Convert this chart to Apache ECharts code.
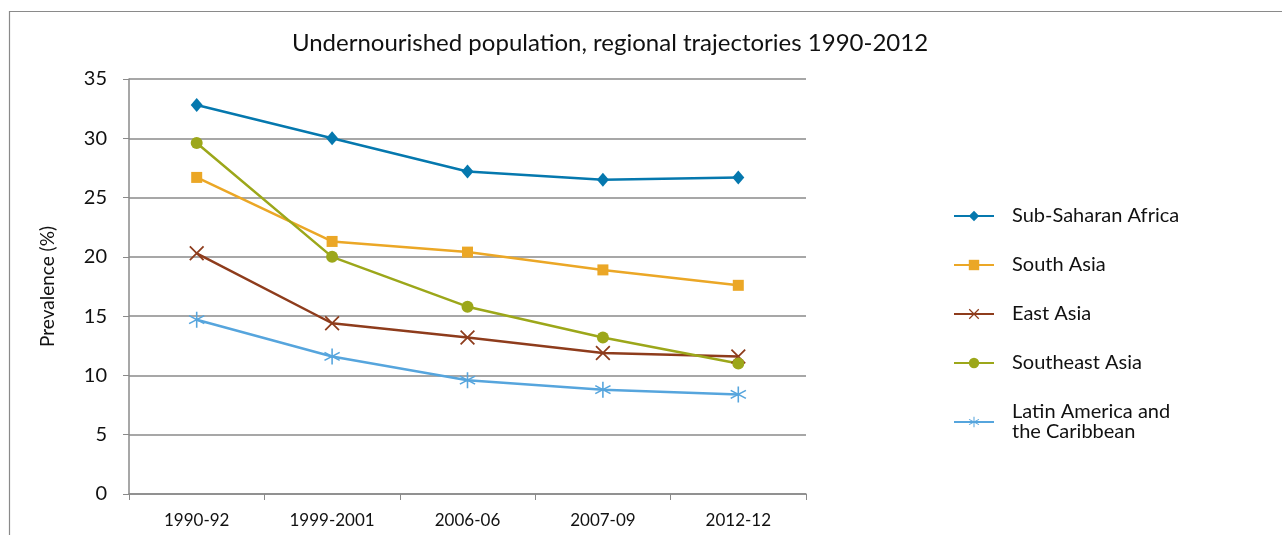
<!DOCTYPE html>
<html>
<head>
<meta charset="utf-8">
<script src="https://cdn.jsdelivr.net/npm/echarts@6/dist/echarts.min.js"></script>
<style>
  html, body { margin: 0; padding: 0; background: #fff; }
  #chart { width: 1282px; height: 535px; }
</style>
</head>
<body>
<div id="chart"></div>
<script>
// data
var periods = ['1990-92', '1999-2001', '2006-06', '2007-09', '2012-12'];
var subSaharan = [32.8, 30.0, 27.2, 26.5, 26.7];
var southAsia = [26.7, 21.3, 20.4, 18.9, 17.6];
var eastAsia = [20.3, 14.4, 13.2, 11.9, 11.6];
var southeastAsia = [29.6, 20.0, 15.8, 13.2, 11.0];
var latinAmerica = [14.7, 11.6, 9.6, 8.8, 8.4];
var yTicks = [0, 5, 10, 15, 20, 25, 30, 35];

var FONT = 'Lato, "DejaVu Sans", sans-serif';

// marker shape built from thin bars (x, asterisk)
function barsPath(angles) {
    var p = '';
    var r = 10, w = 0.9;
    angles.forEach(function (a) {
        var t = a * Math.PI / 180;
        var c = Math.cos(t), s = Math.sin(t);
        var nx = -s * w, ny = c * w;
        var pts = [
            [r * c + nx, r * s + ny], [-r * c + nx, -r * s + ny],
            [-r * c - nx, -r * s - ny], [r * c - nx, r * s - ny]
        ];
        p += 'M' + pts.map(function (q) { return (q[0] + 10).toFixed(2) + ' ' + (q[1] + 10).toFixed(2); }).join('L') + 'Z';
    });
    return 'path://' + p;
}
var crossSymbol = barsPath([45, 135]);
var starSymbol = barsPath([90, 30, 150]);

function line(name, data, color, symbol, size) {
    return {
        name: name,
        type: 'line',
        data: data,
        symbol: symbol,
        symbolSize: size,
        showSymbol: true,
        lineStyle: { color: color, width: 2.5 },
        itemStyle: { color: color },
        emphasis: { disabled: true }
    };
}

var myChart = echarts.init(document.getElementById('chart'), null, { renderer: 'canvas' });

var option = {
    animation: false,
    backgroundColor: '#fff',
    graphic: [{
        type: 'rect',
        shape: { x: 9.5, y: 11.5, width: 1400, height: 700 },
        style: { fill: 'none', stroke: '#8a8a8a', lineWidth: 1.2 },
        silent: true
    }],
    title: {
        text: 'Undernourished population, regional trajectories 1990-2012',
        left: 605,
        textAlign: 'center',
        top: 26,
        textStyle: { fontFamily: FONT, fontSize: 24, fontWeight: 'normal', color: '#111' }
    },
    legend: {
        orient: 'vertical',
        left: 948,
        top: 201,
        itemWidth: 40,
        itemHeight: 13,
        itemGap: 29,
        textStyle: { fontFamily: FONT, fontSize: 20, color: '#111', padding: [0, 0, 0, 13], lineHeight: 20 },
        data: ['Sub-Saharan Africa', 'South Asia', 'East Asia', 'Southeast Asia', 'Latin America and\nthe Caribbean']
    },
    grid: { left: 129, top: 79, right: 476, bottom: 41 },
    xAxis: {
        type: 'category',
        data: periods,
        boundaryGap: true,
        axisLine: { lineStyle: { color: '#8a8a8a', width: 1.5 } },
        axisTick: { show: true, length: 6, lineStyle: { color: '#8a8a8a' } },
        axisLabel: { fontFamily: FONT, fontSize: 17, color: '#111', margin: 18 }
    },
    yAxis: {
        type: 'value',
        min: yTicks[0],
        max: yTicks[yTicks.length - 1],
        interval: 5,
        name: 'Prevalence (%)',
        nameLocation: 'middle',
        nameGap: 72,
        nameTextStyle: { fontFamily: FONT, fontSize: 19, color: '#111' },
        axisLine: { show: true, lineStyle: { color: '#8a8a8a', width: 1.5 } },
        axisTick: { show: true, length: 6, lineStyle: { color: '#8a8a8a' } },
        axisLabel: { fontFamily: FONT, fontSize: 20, color: '#111', margin: 22 },
        splitLine: { lineStyle: { color: '#8a8a8a', width: 1.5 } }
    },
    series: [
        line('Sub-Saharan Africa', subSaharan, '#0578AE', 'diamond', [12, 14]),
        line('South Asia', southAsia, '#EBA726', 'rect', 11),
        line('East Asia', eastAsia, '#8E3C1C', crossSymbol, 15),
        line('Southeast Asia', southeastAsia, '#9CA71A', 'circle', 12),
        line('Latin America and\nthe Caribbean', latinAmerica, '#56A5DD', starSymbol, 16)
    ]
};
myChart.setOption(option);
window.addEventListener('resize', () => {
    myChart.resize();
});
</script>
</body>
</html>
